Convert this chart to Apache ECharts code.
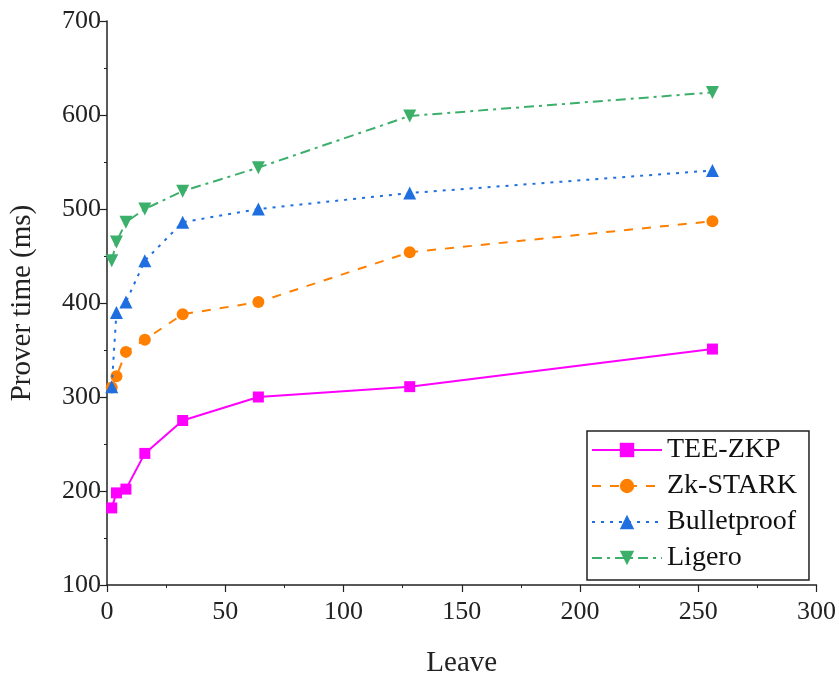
<!DOCTYPE html>
<html>
<head>
<meta charset="utf-8">
<script src="https://cdn.jsdelivr.net/npm/echarts@6/dist/echarts.min.js"></script>
<style>html,body{margin:0;padding:0;background:#fff;}#c{width:839px;height:683px;}</style>
</head>
<body>
<div id="c"></div>
<script>
const leaves = [2, 4, 8, 16, 32, 64, 128, 256];
const teeZkp = [182, 198, 202, 240, 275, 300, 311, 351];
const zkStark = [310, 322, 348, 361, 388, 401, 454, 487];
const bulletproof = [311, 390, 401, 445, 486, 500, 517, 541];
const ligero = [445, 465, 486, 500, 519, 544, 599, 624];
const seriesNames = ['TEE-ZKP', 'Zk-STARK', 'Bulletproof', 'Ligero'];

const font = 'Liberation Serif';
function pairs(ys){ return leaves.map((x,i)=>[x, ys[i]]); }

const chart = echarts.init(document.getElementById('c'));
const axisCommon = {
  axisLine: {show: true, onZero: false, lineStyle: {color: '#222', width: 1.5}},
  axisTick: {show: true, inside: false, length: 7, lineStyle: {color: '#222', width: 1.2}},
  minorTick: {show: true, splitNumber: 2, length: 3, lineStyle: {color: '#222', width: 1}},
  splitLine: {show: false},
  axisLabel: {color: '#222', fontFamily: font, fontSize: 26},
  nameTextStyle: {color: '#222', fontFamily: font, fontSize: 29},
};
chart.setOption({
  animation: false,
  backgroundColor: '#fff',
  grid: {left: 106, right: 21, top: 21, bottom: 92},
  xAxis: Object.assign({}, axisCommon, {
    type: 'value', min: 0, max: 300, interval: 50,
    name: 'Leave', nameLocation: 'middle', nameGap: 64,
    axisLabel: Object.assign({}, axisCommon.axisLabel, {margin: 14})
  }),
  yAxis: Object.assign({}, axisCommon, {
    type: 'value', min: 100, max: 700, interval: 100,
    name: 'Prover time (ms)', nameLocation: 'middle', nameGap: 70,
    axisLabel: Object.assign({}, axisCommon.axisLabel, {margin: 6})
  }),
  legend: {
    orient: 'vertical', left: 587, top: 431,
    padding: [5, 12, 8, 4],
    itemGap: 8, itemWidth: 70, itemHeight: 18,
    borderColor: '#222', borderWidth: 1.5, backgroundColor: '#fff',
    textStyle: {fontFamily: font, fontSize: 28, color: '#111', padding: [0,0,0,0]},
    data: seriesNames
  },
  series: [
    {name: seriesNames[0], type: 'line', data: pairs(teeZkp), symbol: 'rect', symbolSize: 11,
     itemStyle: {color: '#FF00FF'}, lineStyle: {color: '#FF00FF', width: 2, type: 'solid'}, z: 5},
    {name: seriesNames[1], type: 'line', data: pairs(zkStark), symbol: 'circle', symbolSize: 12,
     itemStyle: {color: '#FF8000'}, lineStyle: {color: '#FF8000', width: 2, type: [9, 9]}, z: 4},
    {name: seriesNames[2], type: 'line', data: pairs(bulletproof), symbol: 'triangle', symbolSize: 13,
     itemStyle: {color: '#1F6FE0'}, lineStyle: {color: '#1F6FE0', width: 2, type: [3, 6]}, z: 6},
    {name: seriesNames[3], type: 'line', data: pairs(ligero), symbol: 'path://M0,0 L10,0 L5,10 Z', symbolSize: 13,
     itemStyle: {color: '#3CAF6B'}, lineStyle: {color: '#3CAF6B', width: 2, type: [10, 5, 3, 5]}, z: 3}
  ]
});
</script>
</body>
</html>
